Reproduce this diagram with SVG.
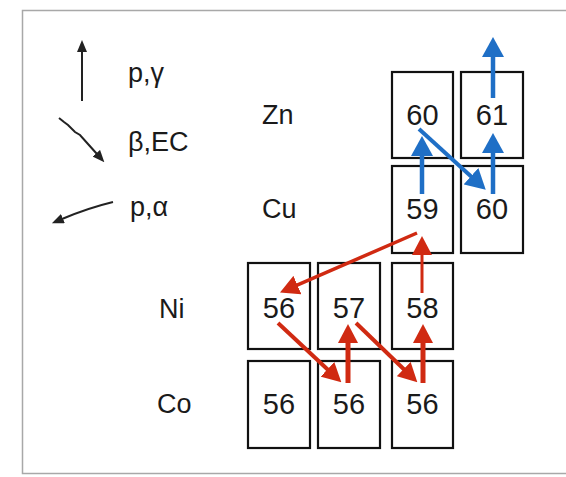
<svg xmlns="http://www.w3.org/2000/svg" width="566" height="477" viewBox="0 0 566 477">
<style>
text{font-family:"Liberation Sans",Arial,sans-serif;fill:#1a1a1a}
.num{font-size:29px;text-anchor:middle}
.el{font-size:27px}
.leg{font-size:27px}
.box{fill:#fff;stroke:#111;stroke-width:2.2}
.blue{stroke:#1f6fc6;fill:none}
.red{stroke:#d02a12;fill:none}
.blk{stroke:#222;fill:none;stroke-width:2}
</style>
<defs>
<marker id="hb" markerUnits="userSpaceOnUse" viewBox="0 0 20 22" markerWidth="20" markerHeight="22" refX="1" refY="11" orient="auto"><path d="M0,0 L20,11 L0,22 z" fill="#1f6fc6"/></marker>
<marker id="hr" markerUnits="userSpaceOnUse" viewBox="0 0 19 20" markerWidth="19" markerHeight="20" refX="1" refY="10" orient="auto"><path d="M0,0 L19,10 L0,20 z" fill="#d02a12"/></marker>
<marker id="hk" markerUnits="userSpaceOnUse" viewBox="0 0 12 10" markerWidth="12" markerHeight="10" refX="1" refY="5" orient="auto"><path d="M0,0 L12,5 L0,10 z" fill="#222"/></marker>
</defs>
<rect x="0" y="0" width="566" height="477" fill="#fff"/>
<rect x="22.5" y="10.5" width="600" height="463" fill="none" stroke="#a8a8a8" stroke-width="1.5"/>
<g id="legend">
<path class="blk" d="M82,101 L82,51" marker-end="url(#hk)"/>
<path class="blk" d="M59,118 L64,122 L68,125 L75,132 L80,135 L88,144 L97,154" marker-end="url(#hk)"/>
<path class="blk" d="M113,202 Q88,208 62,219" marker-end="url(#hk)"/>
<text class="leg" x="128" y="82">p,γ</text>
<text class="leg" x="128" y="151">β,EC</text>
<text class="leg" x="130" y="216">p,α</text>
</g>
<g id="labels">
<text class="el" x="262" y="124">Zn</text>
<text class="el" x="262" y="218">Cu</text>
<text class="el" x="159" y="318">Ni</text>
<text class="el" x="157" y="413">Co</text>
</g>
<g id="zn60"><rect class="box" x="392" y="72" width="61" height="86"/><text class="num" x="422.5" y="125">60</text></g>
<g id="zn61"><rect class="box" x="461" y="72" width="62" height="86"/><text class="num" x="492" y="125">61</text></g>
<g id="cu59"><rect class="box" x="392" y="166" width="61" height="87"/><text class="num" x="422.5" y="219">59</text></g>
<g id="cu60"><rect class="box" x="461" y="166" width="62" height="87"/><text class="num" x="492" y="219">60</text></g>
<g id="ni56"><rect class="box" x="248" y="263" width="62" height="86"/><text class="num" x="279" y="318">56</text></g>
<g id="ni57"><rect class="box" x="318" y="263" width="62" height="86"/><text class="num" x="349" y="318">57</text></g>
<g id="ni58"><rect class="box" x="392" y="263" width="61" height="86"/><text class="num" x="422.5" y="318">58</text></g>
<g id="co56a"><rect class="box" x="248" y="361" width="62" height="87"/><text class="num" x="279" y="414">56</text></g>
<g id="co56b"><rect class="box" x="318" y="361" width="62" height="87"/><text class="num" x="349" y="414">56</text></g>
<g id="co56c"><rect class="box" x="392" y="361" width="61" height="87"/><text class="num" x="422.5" y="414">56</text></g>
<g id="connectors">
<path class="blue" stroke-width="4.5" d="M422,194 L422,155" marker-end="url(#hb)"/>
<path class="blue" stroke-width="4.5" d="M493,194 L493,152" marker-end="url(#hb)"/>
<path class="blue" stroke-width="4.5" d="M493,98 L493,56" marker-end="url(#hb)"/>
<path class="blue" stroke-width="4" d="M419,129 L471.7,176.9" marker-end="url(#hb)"/>
<path class="red" stroke-width="3.5" d="M417,233 L296.5,285.4" marker-end="url(#hr)"/>
<path class="red" stroke-width="3" d="M422,293 L422,254" marker-end="url(#hr)"/>
<path class="red" stroke-width="4" d="M278,323 L328.2,370" marker-end="url(#hr)"/>
<path class="red" stroke-width="5" d="M348,383 L348,342" marker-end="url(#hr)"/>
<path class="red" stroke-width="4" d="M356,323 L404.4,369.8" marker-end="url(#hr)"/>
<path class="red" stroke-width="5" d="M423,383 L423,342" marker-end="url(#hr)"/>
</g>
</svg>
